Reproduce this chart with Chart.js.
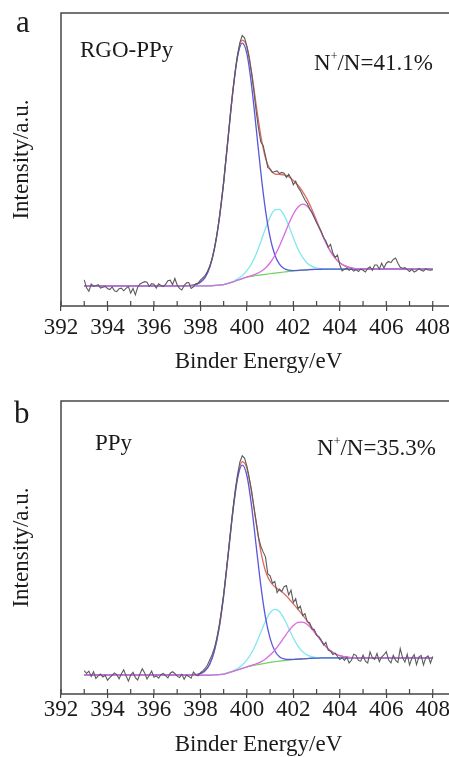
<!DOCTYPE html>
<html>
<head>
<meta charset="utf-8">
<script src="https://cdn.jsdelivr.net/npm/chart.js@4.4.1/dist/chart.umd.min.js"></script>
<style>
  html, body { margin:0; padding:0; background:#fff; overflow:hidden; }
  #wrap { position:relative; width:449px; height:757px; overflow:hidden; background:#fff; }
  canvas { position:absolute; left:0; }
  .lbl { position:absolute; font-family:"Liberation Serif", "Times New Roman", serif; color:#1a1a1a; line-height:1; white-space:nowrap; font-size:23px; }
  .lbl sup { font-size:12px; vertical-align:0; position:relative; top:-10px; }
</style>
</head>
<body>
<div id="wrap">
  <canvas id="ca" width="470" height="378" style="top:0px"></canvas>
  <canvas id="cb" width="470" height="379" style="top:378px"></canvas>
  <div class="lbl" style="left:16px;top:6px;font-size:31px">a</div>
  <div class="lbl" style="left:80px;top:38px">RGO-PPy</div>
  <div class="lbl" style="left:314px;top:51px">N<sup>+</sup>/N=41.1%</div>
  <div class="lbl" style="left:14px;top:397px;font-size:31px">b</div>
  <div class="lbl" style="left:95px;top:431px">PPy</div>
  <div class="lbl" style="left:317px;top:436px">N<sup>+</sup>/N=35.3%</div>
</div>
<script>
// ---------- axis ticks ----------
const majorTicks = [392, 394, 396, 398, 400, 402, 404, 406, 408];
const minorTicks = [392, 393, 394, 395, 396, 397, 398, 399, 400, 401, 402, 403, 404, 405, 406, 407, 408];

// ---------- raw spectrum energies (eV) ----------
const rawEnergy = [
 393.0,393.1,393.2,393.3,393.4,393.5,393.6,393.7,393.8,393.9,
 394.0,394.1,394.2,394.3,394.4,394.5,394.6,394.7,394.8,394.9,
 395.0,395.1,395.2,395.3,395.4,395.5,395.6,395.7,395.8,395.9,
 396.0,396.1,396.2,396.3,396.4,396.5,396.6,396.7,396.8,396.9,
 397.0,397.1,397.2,397.3,397.4,397.5,397.6,397.7,397.8,397.9,
 398.0,398.1,398.2,398.3,398.4,398.5,398.6,398.7,398.8,398.9,
 399.0,399.1,399.2,399.3,399.4,399.5,399.6,399.7,399.8,399.9,
 400.0,400.1,400.2,400.3,400.4,400.5,400.6,400.7,400.8,400.9,
 401.0,401.1,401.2,401.3,401.4,401.5,401.6,401.7,401.8,401.9,
 402.0,402.1,402.2,402.3,402.4,402.5,402.6,402.7,402.8,402.9,
 403.0,403.1,403.2,403.3,403.4,403.5,403.6,403.7,403.8,403.9,
 404.0,404.1,404.2,404.3,404.4,404.5,404.6,404.7,404.8,404.9,
 405.0,405.1,405.2,405.3,405.4,405.5,405.6,405.7,405.8,405.9,
 406.0,406.1,406.2,406.3,406.4,406.5,406.6,406.7,406.8,406.9,
 407.0,407.1,407.2,407.3,407.4,407.5,407.6,407.7,407.8,407.9,
 408.0];

// ---------- panel a: RGO-PPy raw counts ----------
const rawA = [
 8.9,6.2,5.0,7.5,6.8,6.9,7.3,6.1,6.4,6.7,
 6.0,5.6,6.5,5.2,4.9,5.9,6.1,5.2,6.0,6.6,
 4.4,6.0,3.8,6.4,7.5,7.9,8.3,8.1,6.7,7.6,
 7.4,6.1,7.6,7.0,6.6,7.4,8.6,8.8,7.3,9.4,
 7.2,6.0,5.5,7.0,7.9,8.0,6.0,6.5,7.6,7.8,
 8.8,9.6,10.4,11.8,13.6,16.0,19.6,24.0,29.3,35.5,
 42.0,50.3,58.0,66.2,73.5,80.2,85.8,90.0,92.3,91.5,
 88.6,84.8,79.5,73.4,66.5,60.6,56.0,54.8,51.2,47.2,
 46.8,45.6,45.9,46.1,45.2,45.6,45.3,43.9,45.0,43.6,
 41.4,42.6,40.5,39.4,37.7,36.2,35.0,33.2,31.9,30.2,
 28.4,27.0,25.4,23.4,22.2,20.1,21.0,18.1,16.6,17.4,
 14.0,12.0,12.5,13.0,12.2,12.7,11.9,12.4,11.8,12.6,
 12.2,11.6,12.8,13.4,12.2,14.0,14.0,12.6,14.6,13.0,
 14.6,15.2,14.8,15.9,16.4,14.6,13.2,12.9,13.1,12.4,
 11.8,12.5,11.6,12.0,12.8,12.2,11.9,12.7,12.3,12.2,
 12.4];

// ---------- panel b: PPy raw counts ----------
const rawB = [
 8.0,7.0,7.8,6.0,7.6,5.3,6.2,6.8,5.8,6.4,
 4.7,5.6,6.4,7.2,6.6,5.2,6.9,8.3,6.2,4.4,
 6.5,7.4,5.6,4.8,6.9,8.6,7.2,5.1,6.4,7.8,
 5.7,6.2,5.4,6.6,7.0,6.3,5.5,7.1,7.6,7.0,
 6.1,5.6,6.7,5.0,6.5,6.0,5.4,7.5,6.6,6.2,
 7.3,7.9,8.7,9.8,11.6,13.3,15.6,18.9,23.0,28.2,
 34.0,41.0,48.3,55.8,63.2,69.7,75.0,79.2,81.3,80.5,
 77.8,73.8,69.5,64.0,58.9,53.5,50.4,48.5,46.8,41.0,
 40.3,37.8,38.4,34.6,35.8,35.0,36.6,37.0,33.8,35.4,
 31.2,32.5,29.1,30.0,26.8,27.4,24.6,24.3,22.2,22.0,
 20.0,19.6,18.4,16.7,17.6,15.0,14.6,13.5,13.9,12.8,
 11.8,12.4,11.5,12.6,10.6,11.5,13.6,13.2,11.4,11.2,
 13.3,11.2,10.6,14.4,12.4,11.8,13.8,11.0,12.6,13.4,
 14.4,11.6,10.6,13.2,11.5,10.8,15.5,12.4,10.9,13.6,
 9.9,12.2,13.4,10.0,12.6,13.2,9.9,12.4,13.0,10.6,
 12.8];

// ---------- fitted curves: energies (eV) ----------
const fitEnergy = [393.0,397.0,397.6,397.8,398.0,398.2,398.4,398.6,398.8,399.0,
 399.2,399.4,399.6,399.8,400.0,400.2,400.4,400.6,400.8,401.0,
 401.2,401.4,401.6,401.8,402.0,402.2,402.4,402.6,402.8,403.0,
 403.2,403.4,403.6,403.8,404.0,404.2,404.4,404.6,404.8,405.0,
 406.0,408.0];

// panel a fits
const bgA = [6.9,6.9,6.9,6.9,6.9,6.9,6.9,7.0,7.1,7.3,
 7.7,8.2,8.8,9.3,9.8,10.1,10.4,10.6,10.8,11.0,
 11.2,11.4,11.6,11.8,11.95,12.1,12.25,12.35,12.45,12.5,
 12.55,12.6,12.6,12.6,12.6,12.6,12.6,12.6,12.6,12.6,
 12.6,12.6];
const blueA = [6.9,6.9,7.05,7.3,8.1,9.8,13.2,19.4,29.0,42.3,
 58.0,73.5,85.1,89.7,86.1,75.4,60.7,45.6,32.7,23.4,
 17.5,14.3,12.8,12.24,12.1,12.15,12.25,12.35,12.45,12.5,
 12.55,12.6,12.6,12.6,12.6,12.6,12.6,12.6,12.6,12.6,
 12.6,12.6];
const cyanA = [6.9,6.9,6.9,6.9,6.9,6.9,6.9,7.0,7.1,7.3,
 7.76,8.37,9.25,10.37,12.06,14.41,17.78,21.92,26.46,30.4,
 32.8,33.0,31.0,27.46,23.27,19.48,16.56,14.61,13.52,12.95,
 12.72,12.66,12.6,12.6,12.6,12.6,12.6,12.6,12.6,12.6,
 12.6,12.6];
const magentaA = [6.9,6.9,6.9,6.9,6.9,6.9,6.9,7.0,7.1,7.3,
 7.7,8.2,8.8,9.35,9.92,10.37,10.99,11.77,12.96,14.76,
 17.23,20.42,24.13,28.0,31.39,33.79,34.75,34.04,31.89,28.7,
 25.08,21.62,18.63,16.36,14.76,13.77,13.19,12.87,12.72,12.62,
 12.6,12.6];
const envA = [6.9,6.9,7.05,7.34,8.1,9.8,13.2,19.4,29.0,42.3,
 58.06,73.67,85.55,90.77,88.48,79.98,68.67,58.09,50.52,46.56,
 45.13,44.92,44.73,44.1,42.86,41.22,39.06,36.3,32.96,29.15,
 25.25,21.68,18.63,16.36,14.76,13.77,13.19,12.87,12.72,12.62,
 12.6,12.6];

// panel b fits
const bgB = [6.4,6.4,6.4,6.4,6.4,6.4,6.4,6.5,6.6,6.8,
 7.2,7.7,8.2,8.7,9.2,9.6,9.9,10.2,10.5,10.8,
 11.0,11.2,11.4,11.6,11.75,11.9,12.0,12.1,12.2,12.25,
 12.3,12.3,12.3,12.3,12.3,12.3,12.3,12.3,12.3,12.3,
 12.3,12.3];
const blueB = [6.4,6.4,6.45,6.58,6.96,7.93,10.15,14.69,22.28,33.59,
 47.87,62.39,73.57,78.1,74.57,64.29,50.57,36.99,26.18,18.99,
 14.75,12.73,11.96,11.78,11.8,11.9,12.0,12.1,12.2,12.25,
 12.3,12.3,12.3,12.3,12.3,12.3,12.3,12.3,12.3,12.3,
 12.3,12.3];
const cyanB = [6.4,6.4,6.4,6.4,6.4,6.4,6.4,6.5,6.6,6.8,
 7.27,7.9,8.72,9.88,11.62,14.06,17.26,21.07,24.84,27.73,
 28.9,28.13,25.74,22.47,19.11,16.36,14.42,13.28,12.72,12.45,
 12.37,12.3,12.3,12.3,12.3,12.3,12.3,12.3,12.3,12.3,
 12.3,12.3];
const magentaB = [6.4,6.4,6.4,6.4,6.4,6.4,6.4,6.5,6.6,6.8,
 7.2,7.7,8.2,8.73,9.28,9.78,10.29,10.98,11.94,13.28,
 14.93,16.99,19.29,21.54,23.35,24.42,24.52,23.7,22.14,20.14,
 18.09,16.23,14.78,13.74,13.08,12.69,12.48,12.38,12.32,12.3,
 12.3,12.3];
const envB = [6.4,6.4,6.45,6.58,6.96,7.93,10.15,14.69,22.28,33.59,
 47.94,62.59,74.09,79.31,77.07,68.93,58.32,48.64,41.96,38.4,
 36.58,35.45,34.19,32.59,30.76,28.88,26.94,24.88,22.66,20.34,
 18.16,16.23,14.78,13.74,13.08,12.69,12.48,12.38,12.32,12.3,
 12.3,12.3];

// ---------- rendering ----------
const FONT = "'Liberation Serif', 'Times New Roman', serif";
const AXIS = '#474747';

function pts(xs, ys) { return xs.map((x, i) => ({ x: x, y: ys[i] })); }

function line(label, xs, ys, color, width, smooth) {
  return {
    label: label, data: pts(xs, ys), borderColor: color, borderWidth: width,
    pointRadius: 0, fill: false,
    cubicInterpolationMode: smooth ? 'monotone' : 'default', tension: 0
  };
}

const framePlugin = {
  id: 'frame',
  afterDraw(chart) {
    const { ctx, chartArea } = chart;
    const { left, top, bottom } = chartArea;
    const xs = chart.scales.x;
    ctx.save();
    ctx.strokeStyle = AXIS;
    ctx.lineWidth = 1.5;
    ctx.beginPath();
    ctx.moveTo(chart.width, top); ctx.lineTo(left, top); ctx.lineTo(left, bottom); ctx.lineTo(chart.width, bottom);
    ctx.stroke();
    ctx.lineWidth = 1.2;
    ctx.beginPath();
    minorTicks.forEach(v => {
      const x = xs.getPixelForValue(v);
      ctx.moveTo(x, bottom); ctx.lineTo(x, bottom - 5);
    });
    ctx.stroke();
    ctx.restore();
  }
};

function makeChart(id, raw, env, blue, cyan, magenta, bg, cfg) {
  const ctx = document.getElementById(id);
  return new Chart(ctx, {
    type: 'line',
    data: {
      datasets: [
        line('raw', rawEnergy, raw, '#5c5c5c', 1.1, false),
        line('N+ (high)', fitEnergy, magenta, '#d96ae2', 1.3, true),
        line('C-N', fitEnergy, blue, '#5a58da', 1.3, true),
        line('N+', fitEnergy, cyan, '#80e8ef', 1.3, true),
        line('envelope', fitEnergy, env, '#e36a60', 1.3, true),
        line('background', fitEnergy, bg, '#6fd160', 1.2, true)
      ]
    },
    options: {
      responsive: false, animation: false, devicePixelRatio: 1,
      layout: { padding: { left: 0, right: 14, top: cfg.top, bottom: 0 } },
      plugins: { legend: { display: false }, tooltip: { enabled: false } },
      scales: {
        x: {
          type: 'linear', min: 392, max: 409,
          afterBuildTicks: (s) => { s.ticks = majorTicks.map(v => ({ value: v })); },
          afterFit: (s) => { s.height = cfg.axisH; },
          ticks: { color: '#1a1a1a', padding: cfg.tickPad, maxRotation: 0, autoSkip: false,
                   font: { family: FONT, size: 23, lineHeight: 1.0 } },
          grid: { drawOnChartArea: false, drawTicks: true, tickLength: cfg.tickLen, color: AXIS, lineWidth: 1.2 },
          border: { display: false },
          title: { display: true, text: 'Binder Energy/eV', color: '#1a1a1a',
                   font: { family: FONT, size: 23, lineHeight: 1.0 }, padding: { top: 0, bottom: cfg.titlePad } }
        },
        y: {
          min: 0, max: 100,
          afterFit: (s) => { s.width = 61; },
          ticks: { display: false },
          grid: { display: false },
          border: { display: false },
          title: { display: true, text: 'Intensity/a.u.', color: '#1a1a1a',
                   font: { family: FONT, size: 23, lineHeight: 1.0 }, padding: { top: 10, bottom: 0 } }
        }
      }
    },
    plugins: [framePlugin]
  });
}

makeChart('ca', rawA, envA, blueA, cyanA, magentaA, bgA,
  { top: 13, axisH: 72, tickPad: 5, tickLen: 5, titlePad: 5 });
makeChart('cb', rawB, envB, blueB, cyanB, magentaB, bgB,
  { top: 23, axisH: 63, tickPad: 0, tickLen: 4, titlePad: 1 });
</script>
</body>
</html>
